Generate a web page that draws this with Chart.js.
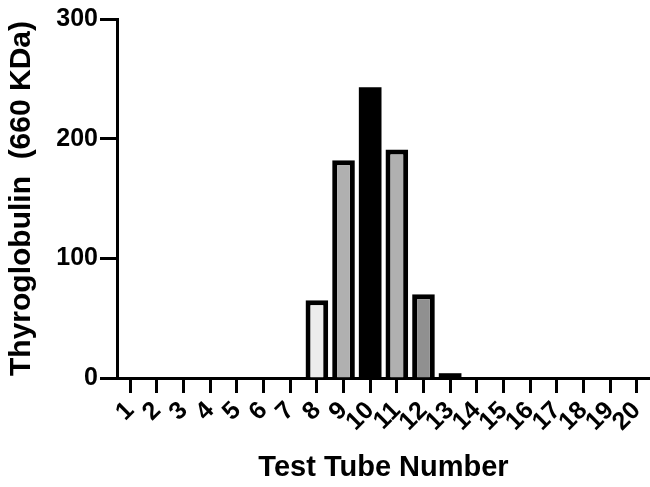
<!DOCTYPE html>
<html>
<head>
<meta charset="utf-8">
<script src="https://cdn.jsdelivr.net/npm/chart.js@4"></script>
<style>
  html, body { margin: 0; padding: 0; background: #fff; }
  #wrap { width: 650px; height: 487px; }
</style>
</head>
<body>
<div id="wrap"><canvas id="chart"></canvas></div>
<script>
// test tubes 1..20 and the thyroglobulin reading in each
const tubes = ['1','2','3','4','5','6','7','8','9','10','11','12','13','14','15','16','17','18','19','20'];
const thyroglobulin = [0, 0, 0, 0, 0, 0, 0, 65, 182, 243, 191, 70, 4, 0, 0, 0, 0, 0, 0, 0];
const barFills = ['#fff','#fff','#fff','#fff','#fff','#fff','#fff',
                  '#ececec','#b0b0b0','#000000','#b0b0b0','#909090','#000000',
                  '#fff','#fff','#fff','#fff','#fff','#fff','#fff'];
const yTicks = [0, 100, 200, 300];

const font = "'Liberation Sans', Arial, Helvetica, sans-serif";

new Chart(document.getElementById('chart'), {
    type: 'bar',
    data: {
        labels: tubes,
        datasets: [{
            label: 'Thyroglobulin',
            data: thyroglobulin,
            backgroundColor: barFills,
            borderColor: '#000',
            // the solid black bar needs no outline (avoids a seam)
            borderWidth: barFills.map(c => c === '#000000' ? 0 : 5),
            barPercentage: 0.85,
            categoryPercentage: 1.0
        }]
    },
    options: {
        responsive: true,
        maintainAspectRatio: false,
        animation: false,
        layout: { padding: { top: 19, left: 0, right: 0, bottom: 0 } },
        plugins: {
            legend: { display: false },
            tooltip: { enabled: false }
        },
        scales: {
            x: {
                offset: true,
                grid: {
                    offset: false,
                    drawOnChartArea: false,
                    tickLength: 15,
                    tickWidth: 3,
                    tickColor: '#000'
                },
                border: { display: true, color: '#000', width: 3 },
                ticks: {
                    color: '#000',
                    autoSkip: false,
                    minRotation: 45,
                    maxRotation: 45,
                    padding: 3,
                    font: { family: font, size: 25, weight: 'bold' }
                },
                title: {
                    display: true,
                    text: 'Test Tube Number',
                    color: '#000',
                    padding: { top: 0, bottom: 2 },
                    font: { family: font, size: 29, weight: 'bold' }
                },
                afterFit: s => {
                    s.height = 109;
                    s.paddingLeft = 0;
                    s.paddingRight = 0;
                }
            },
            y: {
                min: 0,
                max: 300,
                afterBuildTicks: s => { s.ticks = yTicks.map(v => ({ value: v })); },
                grid: {
                    drawOnChartArea: false,
                    tickLength: 17,
                    tickWidth: 3,
                    tickColor: '#000'
                },
                border: { display: true, color: '#000', width: 3 },
                ticks: {
                    color: '#000',
                    padding: 2,
                    font: { family: font, size: 25, weight: 'bold' }
                },
                title: {
                    display: true,
                    text: 'Thyroglobulin  (660 KDa)',
                    color: '#000',
                    padding: { top: 4, bottom: 0 },
                    font: { family: font, size: 30, weight: 'bold' }
                },
                afterFit: s => { s.width = 117; }
            }
        }
    }
});
</script>
</body>
</html>
